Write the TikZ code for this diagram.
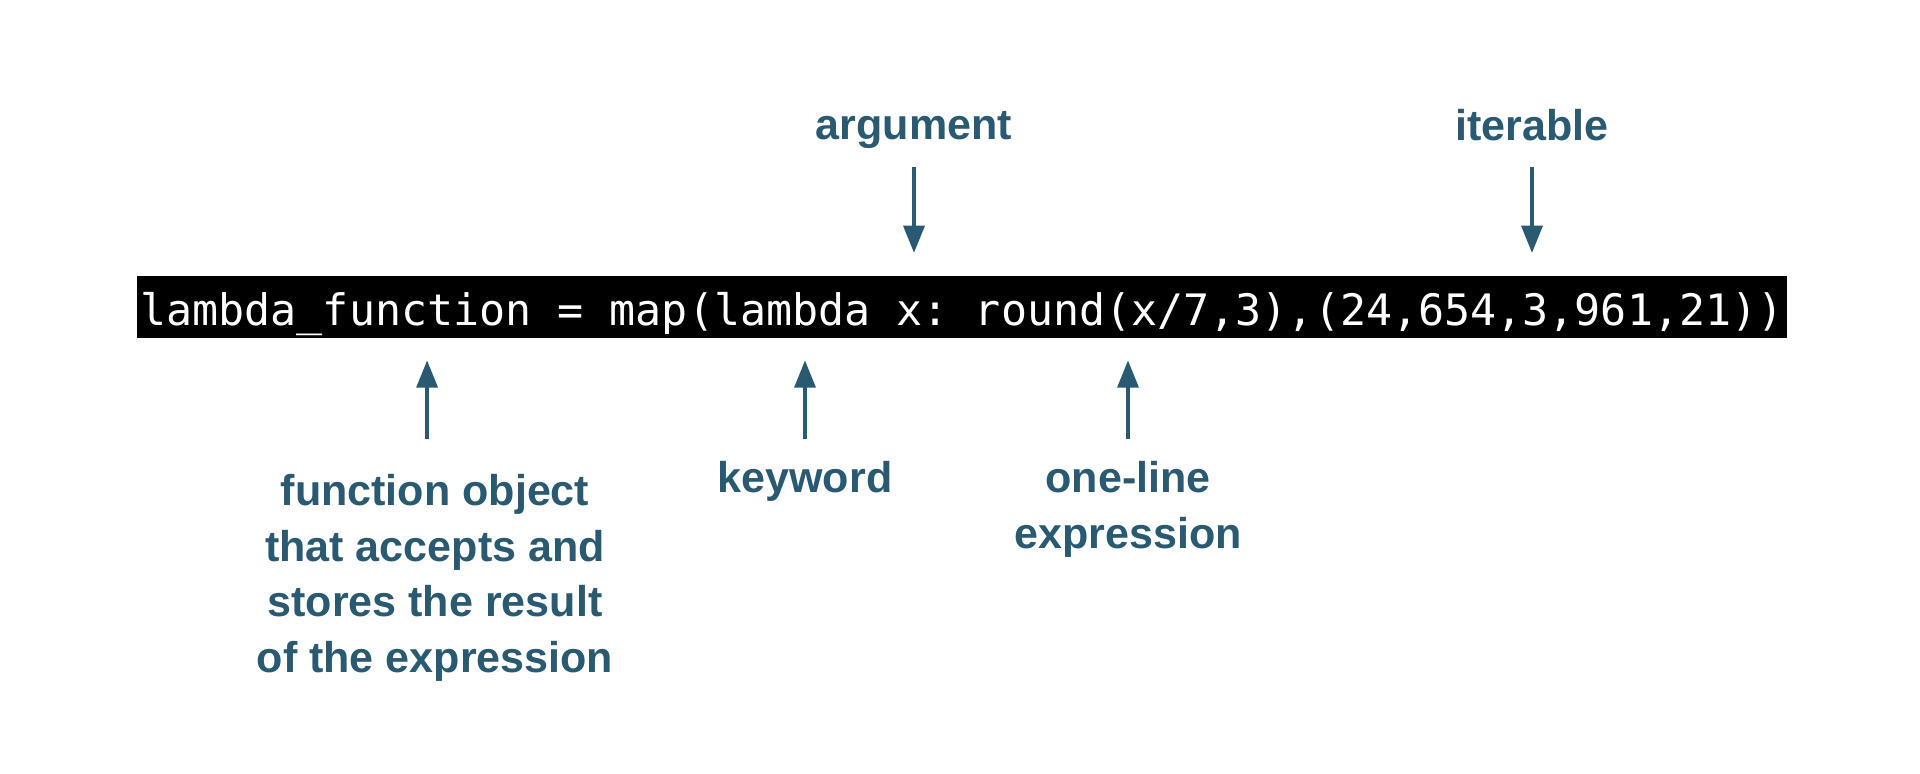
\documentclass[tikz,border=0pt]{standalone}
\usepackage{fontspec}
\setmainfont{Liberation Sans}
\newfontfamily\codefont{DejaVu Sans Mono}
\usetikzlibrary{arrows.meta}
\definecolor{labelblue}{HTML}{2A5A71}
\def\labelfont{\fontsize{24.5pt}{31.7pt}\selectfont\bfseries}
\frenchspacing
\tikzset{
	labeltext/.style={text=labelblue, font=\labelfont, align=center, inner sep=0pt},
	codebar/.style={fill=black, text=white, font=\codefont\fontsize{24.66pt}{30pt}\selectfont,
		inner xsep=1.7pt, inner ysep=0pt, text height=27.8pt, text depth=7.4pt},
	pointer/.style={-{Triangle[length=15.5pt,width=11.8pt]}, line width=2.3pt, draw=labelblue, fill=labelblue}
}

\begin{document}
\begin{tikzpicture}[x=0.02cm, y=-0.02cm]
		%%%%% START %%%%%
		
		\fill[white] (0,0) rectangle (1920,774);
		\useasboundingbox (0,0) rectangle (1920,774);
		
		% the code line
		\node[codebar, anchor=base west] (code) at (137,325) {lambda\_function = map(lambda x: round(x/7,3),(24,654,3,961,21))};
		
		% labels above
		\node[labeltext, anchor=base] (argument) at (914,139) {argument};
		\node[labeltext, anchor=base] (iterable) at (1532,140) {iterable};
		
		% labels below
		\node[labeltext, anchor=north] (fobj) at (435,474) {function object\\that accepts and\\stores the result\\of the expression};
		\node[labeltext, anchor=base] (keyword) at (805,492) {keyword};
		\node[labeltext, anchor=north] (oneline) at (1128,461) {one-line\\expression};
		
		\coordinate (hi) at (0,167);
		\coordinate (lo) at (0,439);
		\coordinate (fobjx) at ([xshift=-4.5pt]fobj.north);
		
		\draw[pointer, shorten >=13pt] (argument |- hi) -- (argument |- code.north);
		\draw[pointer, shorten >=13pt] (iterable |- hi) -- (iterable |- code.north);
		
		\draw[pointer, shorten >=12.5pt] (fobjx |- lo) -- (fobjx |- code.south);
		\draw[pointer, shorten >=12.5pt] (keyword |- lo) -- (keyword |- code.south);
		\draw[pointer, shorten >=12.5pt] (oneline |- lo) -- (oneline |- code.south);
		
		%%%%% END %%%%%
\end{tikzpicture}
\end{document}
